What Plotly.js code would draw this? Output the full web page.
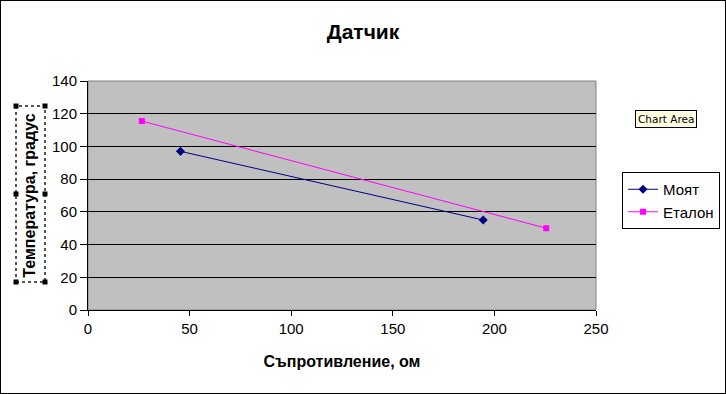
<!DOCTYPE html>
<html><head><meta charset="utf-8">
<script src="https://cdn.plot.ly/plotly-3.0.1.min.js"></script>
<style>
html,body{margin:0;padding:0;background:#fff;}
#frame{position:absolute;left:0;top:0;width:724px;height:392px;border:1px solid #000;}
#chart{width:724px;height:392px;}
</style></head>
<body><div id="frame"><div id="chart"></div></div>
<script>
const seriesNames = ["Моят", "Еталон"];
const mojatX = [45.5, 194.5];
const mojatY = [97, 55];
const etalonX = [26.5, 225.5];
const etalonY = [115.5, 50];
const xTicks = [0, 50, 100, 150, 200, 250];
const yTicks = [0, 20, 40, 60, 80, 100, 120, 140];

const F = "Liberation Sans, Arial, sans-serif";
const traces = [
  {x: mojatX, y: mojatY, name: seriesNames[0], type: "scatter", mode: "lines+markers",
   line: {color: "#000080", width: 1}, marker: {symbol: "diamond", size: 7, color: "#000080"}},
  {x: etalonX, y: etalonY, name: seriesNames[1], type: "scatter", mode: "lines+markers",
   line: {color: "#FF00FF", width: 1}, marker: {symbol: "square", size: 6, color: "#FF00FF"}}
];

const ylo = (310-282)/229, yhi = (310-106)/229, xl = (16-88)/508, xr = (45-88)/508, ym = (ylo+yhi)/2;
function handle(xa, ya){
  return {type:"rect", xref:"paper", yref:"paper", xsizemode:"pixel", ysizemode:"pixel",
    xanchor: xa, yanchor: ya, x0:-2.5, x1:2.5, y0:-2.5, y1:2.5,
    fillcolor:"#000", line:{width:0}};
}
const shapes = [
  {type:"rect", xref:"paper", yref:"paper", x0:0, x1:1, y0:0, y1:1, line:{color:"#808080", width:1}, layer:"below"},
  {type:"rect", xref:"paper", yref:"paper", x0:xl, x1:xr, y0:ylo, y1:yhi, line:{color:"#555", width:2, dash:"dot"}},
  handle(xl, ylo), handle(xr, ylo), handle(xl, yhi), handle(xr, yhi), handle(xl, ym), handle(xr, ym)
];

const layout = {
  width: 724, height: 392,
  margin: {l: 87, r: 129, t: 80, b: 83, autoexpand: false},
  paper_bgcolor: "#fff", plot_bgcolor: "#C0C0C0",
  font: {family: F, size: 15, color: "#000"},
  title: {text: "<b>Датчик</b>", font: {family: F, size: 21, color: "#000"},
          x: 0.5, xref: "container", xanchor: "center", y: 1 - 31/392, yref: "container", yanchor: "middle"},
  xaxis: {range: [0, 250], tickvals: xTicks, ticks: "outside", ticklen: 5, tickcolor: "#000",
          showline: true, linecolor: "#000", linewidth: 1, showgrid: false, zeroline: false,
          tickfont: {family: F, size: 15, color: "#000"},
          title: {text: "<b>Съпротивление, ом</b>", font: {family: F, size: 16, color: "#000"}, standoff: 19}},
  yaxis: {range: [0, 140], tickvals: yTicks, ticks: "outside", ticklen: 7, tickcolor: "#000",
          showline: true, linecolor: "#000", linewidth: 1, showgrid: true, gridcolor: "#000", gridwidth: 1,
          zeroline: false, tickfont: {family: F, size: 15, color: "#000"},
          title: {text: "<b>Температура, градус</b>", font: {family: F, size: 16, color: "#000"}, standoff: 12}},
  legend: {xref: "container", yref: "container", x: 621/724, xanchor: "left", y: 1 - 171/392, yanchor: "top",
           bordercolor: "#000", borderwidth: 1, bgcolor: "#fff",
           font: {family: F, size: 15, color: "#000"}, tracegroupgap: 0, itemwidth: 30},
  shapes: shapes,
  annotations: [
    {text: "Chart Area", xref: "paper", yref: "paper", x: (666-88)/508, y: (310-119)/229,
     xanchor: "center", yanchor: "middle",
     showarrow: false, bgcolor: "#FFFFE1", bordercolor: "#000", borderwidth: 1, borderpad: 2,
     font: {family: "DejaVu Sans, sans-serif", size: 10.5, color: "#000"}}
  ],
  showlegend: true
};
Plotly.newPlot("chart", traces, layout, {displayModeBar: false, staticPlot: true});
</script></body></html>
